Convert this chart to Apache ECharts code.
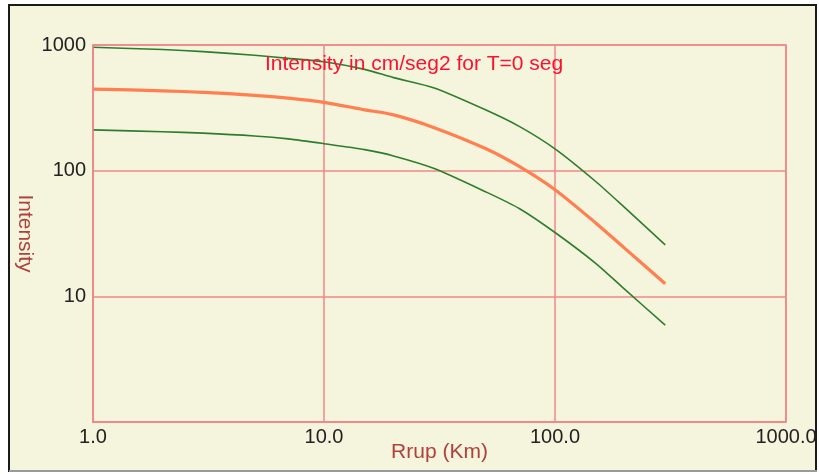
<!DOCTYPE html>
<html>
<head>
<meta charset="utf-8">
<style>
  html, body { margin: 0; padding: 0; background: #ffffff; }
  #chart { width: 819px; height: 474px; }
</style>
<script src="https://cdn.jsdelivr.net/npm/echarts@6/dist/echarts.min.js"></script>
</head>
<body>
<div id="chart"></div>
<script>
// Rupture distance (km) and intensity (cm/seg2) for T = 0 seg
const rrup   = [1, 2, 3, 5, 7, 10, 15, 20, 30, 50, 70, 100, 150, 200, 300];
const upper  = [960, 920, 885, 828, 783, 735, 640, 550, 455, 305, 225, 149, 82, 51, 25.7];
const median = [446, 432, 420, 398, 378, 350, 305, 278, 220, 150, 108, 70.5, 38.4, 24.2, 12.6];
const lower  = [211, 204, 199, 189, 179, 164, 147, 131, 104, 68, 50, 32.2, 18.3, 11.4, 5.9];

const xTicks = [1, 10, 100, 1000];
const yTicks = [10, 100, 1000];

const titleText = 'Intensity in cm/seg2 for T=0 seg';
const xName = 'Rrup (Km)';
const yName = 'Intensity';

const pairs = (ys) => rrup.map((x, i) => [x, ys[i]]);

const gridColor = '#F08888';
const font = '"Liberation Sans", Arial, sans-serif';

const chart = echarts.init(document.getElementById('chart'), null, { renderer: 'canvas' });

chart.setOption({
  backgroundColor: '#ffffff',
  animation: false,
  graphic: [
    {
      // panel background and frame
      type: 'rect', z: -10, silent: true,
      shape: { x: 9, y: 5, width: 807, height: 466 },
      style: { fill: '#F5F4DC', stroke: '#1a1a1a', lineWidth: 2 }
    },
    {
      type: 'line', z: -9, silent: true,
      shape: { x1: 9, y1: 471, x2: 817, y2: 471 },
      style: { stroke: '#9a9a9a', lineWidth: 2 }
    },
    {
      // plot area border
      type: 'rect', z: 5, silent: true,
      shape: { x: 93, y: 45, width: 693, height: 377 },
      style: { fill: 'none', stroke: gridColor, lineWidth: 1.5 }
    },
    {
      type: 'text', z: 10, silent: true,
      left: 265, top: 54,
      style: { text: titleText, fill: '#FF1030', font: '21px ' + font }
    }
  ],
  grid: { left: 93, right: 33, top: 45, bottom: 52, show: false, outerBoundsMode: 'none', containLabel: false },
  xAxis: {
    type: 'log', logBase: 10, min: 1, max: 1000,
    name: xName, nameLocation: 'middle', nameGap: 20, nameMoveOverlap: false,
    nameTextStyle: { color: '#B0403E', fontSize: 21, fontFamily: font },
    axisLine: { show: true, lineStyle: { color: gridColor, width: 1.5 } },
    axisTick: { show: false },
    axisLabel: {
      color: '#222', fontSize: 20, fontFamily: font, margin: 5,
      formatter: (v) => xTicks.includes(Math.round(v)) ? Number(v).toFixed(1) : ''
    },
    splitLine: { show: true, lineStyle: { color: gridColor, width: 1.5 } }
  },
  yAxis: {
    type: 'log', logBase: 10, min: 1, max: 1000,
    name: yName, nameLocation: 'middle', nameGap: 58, nameRotate: -90, nameMoveOverlap: false,
    nameTextStyle: { color: '#B0403E', fontSize: 21, fontFamily: font },
    axisLine: { show: true, lineStyle: { color: gridColor, width: 1.5 } },
    axisTick: { show: false },
    axisLabel: {
      color: '#222', fontSize: 20, fontFamily: font, margin: 7,
      showMinLabel: false,
      formatter: (v) => yTicks.includes(Math.round(v)) ? String(Math.round(v)) : ''
    },
    splitLine: { show: true, lineStyle: { color: gridColor, width: 1.5 } }
  },
  series: [
    {
      name: 'upper', type: 'line', data: pairs(upper),
      smooth: 0.25, symbol: 'none',
      lineStyle: { color: '#2E7D2E', width: 1.6 }
    },
    {
      name: 'median', type: 'line', data: pairs(median),
      smooth: 0.25, symbol: 'none',
      lineStyle: { color: '#FF7F50', width: 3.2 }
    },
    {
      name: 'lower', type: 'line', data: pairs(lower),
      smooth: 0.25, symbol: 'none',
      lineStyle: { color: '#2E7D2E', width: 1.6 }
    }
  ]
});
</script>
</body>
</html>
